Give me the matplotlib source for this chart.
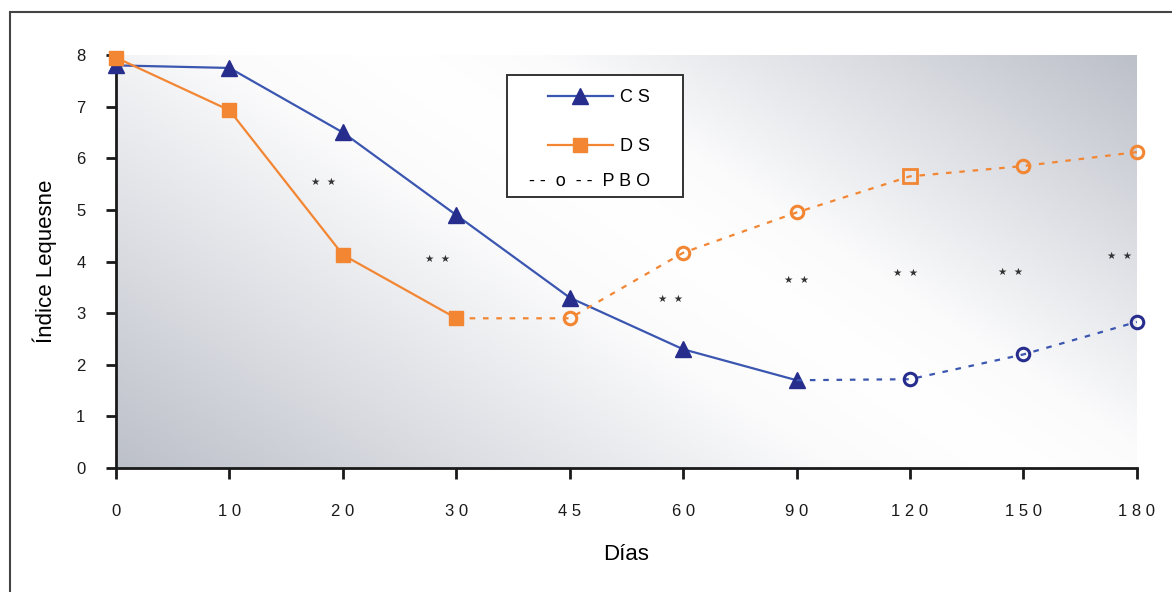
import numpy as np
import matplotlib
matplotlib.use('Agg')
import matplotlib.pyplot as plt
from matplotlib.lines import Line2D
from matplotlib.colors import LinearSegmentedColormap
from matplotlib.patches import Rectangle

plt.rcParams['font.family'] = ['Liberation Sans', 'DejaVu Sans']

# Data (x axis is categorical: days)
dias = ['0', '1 0', '2 0', '3 0', '4 5', '6 0', '9 0', '1 2 0', '1 5 0', '1 8 0']
pos = np.arange(len(dias))

# CS: active treatment up to day 90, then placebo (PBO)
cs_idx = [0, 1, 2, 3, 4, 5, 6]
cs_val = [7.8, 7.75, 6.5, 4.9, 3.3, 2.3, 1.7]
cs_pbo_idx = [6, 7, 8, 9]
cs_pbo_val = [1.7, 1.72, 2.2, 2.83]

# DS: active treatment up to day 30, then placebo (PBO)
ds_idx = [0, 1, 2, 3]
ds_val = [7.95, 6.93, 4.13, 2.9]
ds_pbo_idx = [3, 4, 5, 6, 7, 8, 9]
ds_pbo_val = [2.9, 2.9, 4.17, 4.95, 5.65, 5.85, 6.12]

# significance markers "* *"
star_x = [1.83, 2.83, 4.89, 6.0, 6.96, 7.89, 8.85]
star_y = [5.55, 4.05, 3.28, 3.65, 3.78, 3.8, 4.1]

blue = '#3b56b0'
navy = '#272d8c'
orange = '#f28633'

fig = plt.figure(figsize=(11.72, 5.92), dpi=100)
ax = fig.add_axes([0.099, 0.2095, 0.871, 0.6975])

# gradient background: gray bottom-left / top-right, white band through the middle
u, v = np.meshgrid(np.linspace(0, 1, 400), np.linspace(0, 1, 200))
t = 0.62 * u + 0.38 * v
c = 0.55
f = np.where(t < c, (c - t) / c, (t - c) / (1 - c))
cmap = LinearSegmentedColormap.from_list(
    'bg', [(0, '#ffffff'), (0.2, '#fbfbfc'), (0.6, '#dcdee3'), (1, '#bcc0c9')])
ax.imshow(f, cmap=cmap, vmin=0, vmax=1, origin='lower', aspect='auto',
          extent=[0, 9, 0, 8], zorder=0)

ax.plot(cs_idx, cs_val, color=blue, lw=1.6, marker='^', ms=11,
        mfc=navy, mec=navy, zorder=3, clip_on=False)
ax.plot(ds_idx, ds_val, color=orange, lw=1.6, marker='s', ms=10,
        mfc=orange, mec=orange, zorder=4, clip_on=False)

ax.plot(cs_pbo_idx, cs_pbo_val, color=blue, lw=1.6, ls=(0, (2.5, 3.5)), zorder=3)
ax.plot(cs_pbo_idx[1:], cs_pbo_val[1:], ls='none', marker='o', ms=9,
        mfc='none', mec=navy, mew=2.2, zorder=4, clip_on=False)

ax.plot(ds_pbo_idx, ds_pbo_val, color=orange, lw=1.6, ls=(0, (2.5, 3.5)), zorder=3)
circ = [i for i in ds_pbo_idx[1:] if i != 7]
ax.plot(circ, [ds_pbo_val[ds_pbo_idx.index(i)] for i in circ], ls='none',
        marker='o', ms=9, mfc='none', mec=orange, mew=2.2, zorder=4, clip_on=False)
ax.plot([7], [ds_pbo_val[ds_pbo_idx.index(7)]], ls='none', marker='s', ms=10,
        mfc='none', mec=orange, mew=2, zorder=4)

for x, y in zip(star_x, star_y):
    ax.text(x, y, '★  ★', fontsize=7.5, color='#333333', ha='center', va='center',
            family='DejaVu Sans', zorder=5)

ax.set_xlim(0, 9)
ax.set_ylim(0, 8)
ax.set_xticks(pos)
ax.set_xticklabels(dias)
ax.set_yticks(range(9))
for s in ['top', 'right']:
    ax.spines[s].set_visible(False)
for s in ['left', 'bottom']:
    ax.spines[s].set_linewidth(2)
    ax.spines[s].set_color('#1a1a1a')
ax.tick_params(axis='x', length=8, width=2, pad=18, labelsize=12, colors='#1a1a1a')
ax.tick_params(axis='y', length=7, width=2, pad=15, labelsize=12, colors='#1a1a1a')
ax.set_xlabel('Días', fontsize=16, labelpad=18)
ax.set_ylabel('Índice Lequesne', fontsize=16, labelpad=14)

# legend frame drawn separately so the PBO note fits inside it
ax.add_patch(Rectangle((0.383, 0.656), 0.172, 0.296, transform=ax.transAxes,
                       fc='white', ec='#333333', lw=1.4, zorder=8))
handles = [Line2D([], [], color=blue, lw=1.6, marker='^', ms=11, mfc=navy, mec=navy),
           Line2D([], [], color=orange, lw=1.6, marker='s', ms=10, mfc=orange, mec=orange)]
leg = ax.legend(handles, ['C S', 'D S'], loc='upper left', frameon=False,
                bbox_to_anchor=(0.423, 0.918), fontsize=13, handlelength=3.6,
                labelspacing=1.8, borderpad=0, handletextpad=0.4, borderaxespad=0)
leg.set_zorder(9)
ax.text(0.464, 0.694, '- -  o  - -  P B O', transform=ax.transAxes, fontsize=13,
        ha='center', va='center', zorder=10)

# outer frame
fig.patches.append(Rectangle((10 / 1172, -0.1), 1.2, 0.98 + 0.1, transform=fig.transFigure,
                             fill=False, lw=1.5, ec='#444444'))

fig.savefig('out.png', dpi=100)
